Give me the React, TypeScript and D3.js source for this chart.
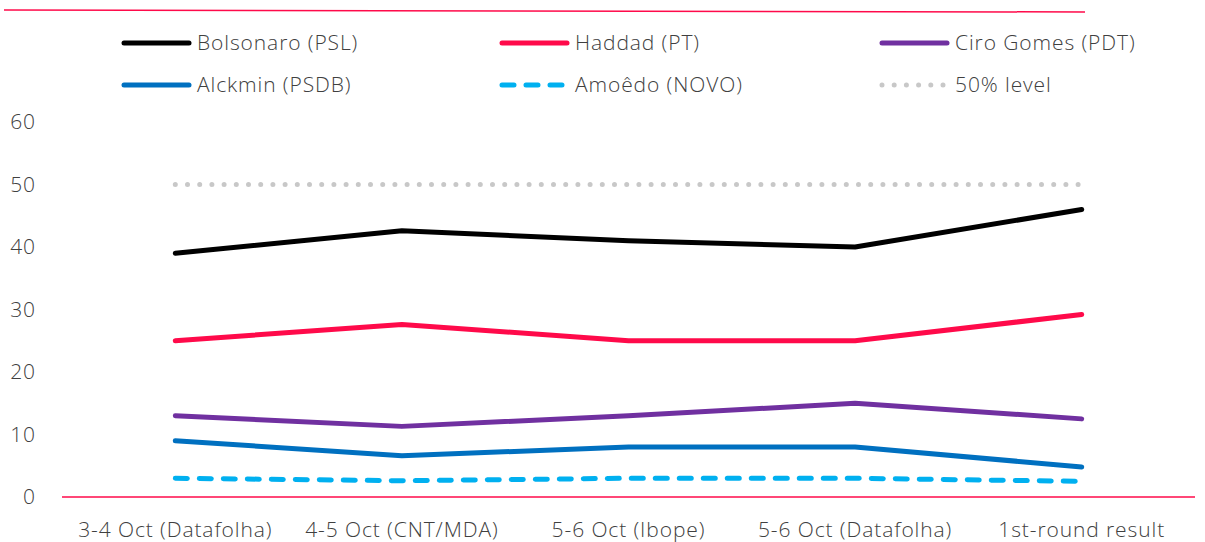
import React, { useEffect, useRef } from "react";
import * as d3 from "d3";

// poll labels
const categories = [
  "3-4 Oct (Datafolha)",
  "4-5 Oct (CNT/MDA)",
  "5-6 Oct (Ibope)",
  "5-6 Oct (Datafolha)",
  "1st-round result",
];

const bolsonaro = [39, 42.6, 41, 40, 46];
const haddad = [25, 27.6, 25, 25, 29.2];
const ciro = [13, 11.3, 13, 15, 12.5];
const alckmin = [9, 6.6, 8, 8, 4.8];
const amoedo = [3, 2.6, 3, 3, 2.5];
const fiftyLevel = [50, 50, 50, 50, 50];

const yTicks = [0, 10, 20, 30, 40, 50, 60];

const seriesNames = [
  "Bolsonaro (PSL)",
  "Haddad (PT)",
  "Ciro Gomes (PDT)",
  "Alckmin (PSDB)",
  "Amoêdo (NOVO)",
  "50% level",
];

const FONT = "'Open Sans', 'Liberation Sans', sans-serif";

export default function App() {
  const ref = useRef<SVGSVGElement>(null);

  useEffect(() => {
    const svg = d3.select(ref.current);
    svg.selectAll("*").remove();

    const width = 1205;
    const margin = { left: 62, right: 10 };
    const x = d3
      .scaleBand()
      .domain(categories)
      .range([margin.left, width - margin.right]);
    const y = d3.scaleLinear().domain([0, 60]).range([497, 122]);

    const series = [
      { name: seriesNames[0], values: bolsonaro, color: "#000000", dash: null },
      { name: seriesNames[1], values: haddad, color: "#ff0a4a", dash: null },
      { name: seriesNames[2], values: ciro, color: "#7030a0", dash: null },
      { name: seriesNames[3], values: alckmin, color: "#0070c0", dash: null },
      { name: seriesNames[4], values: amoedo, color: "#00b0f0", dash: "12 12" },
      { name: seriesNames[5], values: fiftyLevel, color: "#c8c8c8", dash: "0 12.2" },
    ];

    const textStyle = (sel: any) =>
      sel
        .style("font-family", FONT)
        .style("font-size", "21px")
        .style("font-weight", 300)
        .style("letter-spacing", "0.9px")
        .style("fill", "#404040");

    // top decorative rule
    svg
      .append("line")
      .attr("x1", 4)
      .attr("x2", 1085)
      .attr("y1", 10)
      .attr("y2", 12)
      .attr("stroke", "#ff0a4a")
      .attr("stroke-width", 1.5);

    // y tick labels
    svg
      .append("g")
      .selectAll("text")
      .data(yTicks)
      .join("text")
      .attr("x", 36)
      .attr("y", (d) => y(d))
      .attr("dy", "0.35em")
      .attr("text-anchor", "end")
      .call(textStyle)
      .text((d) => d);

    // x labels
    svg
      .append("g")
      .selectAll("text")
      .data(categories)
      .join("text")
      .attr("x", (d) => x(d)! + x.bandwidth() / 2)
      .attr("y", 530)
      .attr("dy", "0.35em")
      .attr("text-anchor", "middle")
      .call(textStyle)
      .text((d) => d);

    // baseline
    svg
      .append("line")
      .attr("x1", margin.left)
      .attr("x2", width - margin.right)
      .attr("y1", y(0))
      .attr("y2", y(0))
      .attr("stroke", "#ff0a4a")
      .attr("stroke-width", 1.5);

    const line = d3
      .line<number>()
      .x((_, i) => x(categories[i])! + x.bandwidth() / 2)
      .y((d) => y(d));

    // draw the 50% level first, then the candidates on top
    const drawOrder = [5, 4, 3, 2, 1, 0];
    drawOrder.forEach((i) => {
      const s = series[i];
      svg
        .append("path")
        .datum(s.values)
        .attr("d", line)
        .attr("fill", "none")
        .attr("stroke", s.color)
        .attr("stroke-width", 5)
        .attr("stroke-linecap", "round")
        .attr("stroke-linejoin", "round")
        .attr("stroke-dasharray", s.dash);
    });

    // legend, 3 columns x 2 rows
    const colX = [122, 500, 880];
    const rowY = [43, 85];
    series.forEach((s, i) => {
      const g = svg
        .append("g")
        .attr("transform", `translate(${colX[i % 3]},${rowY[Math.floor(i / 3)]})`);
      g.append("line")
        .attr("x1", 2)
        .attr("x2", 67)
        .attr("stroke", s.color)
        .attr("stroke-width", 5)
        .attr("stroke-linecap", "round")
        .attr("stroke-dasharray", s.dash);
      g.append("text")
        .attr("x", 75)
        .attr("dy", "0.35em")
        .call(textStyle)
        .text(s.name);
    });
  }, []);

  return (
    <svg
      ref={ref}
      width={1205}
      height={542}
      style={{ display: "block", position: "absolute", left: 0, top: 0 }}
    />
  );
}
